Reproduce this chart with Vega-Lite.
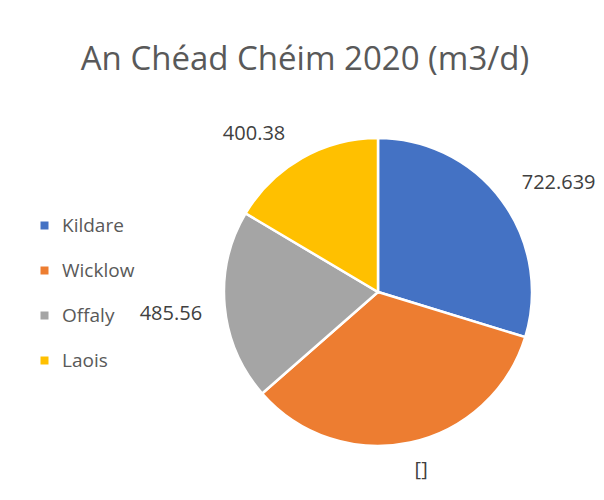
{
  "$schema": "https://vega.github.io/schema/vega-lite/v6.json",
  "autosize": "none",
  "width": 308,
  "height": 308,
  "padding": {"left": 224, "top": 138, "right": 72, "bottom": 54},
  "background": "white",
  "view": {"stroke": null},
  "title": {
    "text": "An Chéad Chéim 2020 (m3/d)",
    "font": "Open Sans",
    "fontSize": 33,
    "fontWeight": "normal",
    "color": "#595959",
    "anchor": "middle",
    "frame": "group",
    "baseline": "alphabetic",
    "offset": 14,
    "dx": -73,
    "dy": 37
  },
  "data": {
    "values": [
      {"region": "Kildare", "value": 722.639, "label": "722.639"},
      {"region": "Wicklow", "value": 822, "label": "[]"},
      {"region": "Offaly", "value": 485.56, "label": "485.56"},
      {"region": "Laois", "value": 400.38, "label": "400.38"}
    ]
  },
  "transform": [
    {"window": [{"op": "row_number", "as": "rank"}]}
  ],
  "encoding": {
    "theta": {"field": "value", "type": "quantitative", "stack": true},
    "order": {"field": "rank", "type": "quantitative", "sort": "ascending"},
    "color": {
      "field": "region",
      "type": "nominal",
      "sort": ["Kildare", "Wicklow", "Offaly", "Laois"],
      "scale": {"domain": ["Kildare", "Wicklow", "Offaly", "Laois"], "range": ["#4472C4", "#ED7D31", "#A5A5A5", "#FFC000"]},
      "legend": {
        "title": null,
        "orient": "none",
        "legendX": -189,
        "legendY": 78,
        "symbolType": "square",
        "symbolSize": 64,
        "symbolStrokeWidth": 0,
        "labelFont": "Open Sans",
        "labelFontSize": 19,
        "labelColor": "#595959",
        "labelOffset": 8,
        "rowPadding": 25
      }
    }
  },
  "layer": [
    {
      "mark": {"type": "arc", "outerRadius": 154, "stroke": "white", "strokeWidth": 2.5}
    },
    {
      "mark": {"type": "text", "radius": 206, "dx": 15, "dy": 13, "font": "Open Sans", "fontSize": 20, "color": "#404040"},
      "encoding": {
        "text": {"condition": {"test": "datum.region === 'Kildare'", "field": "label"}, "value": ""},
        "color": {"value": "#404040"}
      }
    },
    {
      "mark": {"type": "text", "radius": 206, "dx": 0, "dy": -23, "font": "Open Sans", "fontSize": 20, "color": "#404040"},
      "encoding": {
        "text": {"condition": {"test": "datum.region === 'Wicklow'", "field": "label"}, "value": ""},
        "color": {"value": "#404040"}
      }
    },
    {
      "mark": {"type": "text", "radius": 206, "dx": -2, "dy": 3, "font": "Open Sans", "fontSize": 20, "color": "#404040"},
      "encoding": {
        "text": {"condition": {"test": "datum.region === 'Offaly'", "field": "label"}, "value": ""},
        "color": {"value": "#404040"}
      }
    },
    {
      "mark": {"type": "text", "radius": 206, "dx": -22, "dy": 21, "font": "Open Sans", "fontSize": 20, "color": "#404040"},
      "encoding": {
        "text": {"condition": {"test": "datum.region === 'Laois'", "field": "label"}, "value": ""},
        "color": {"value": "#404040"}
      }
    }
  ]
}
